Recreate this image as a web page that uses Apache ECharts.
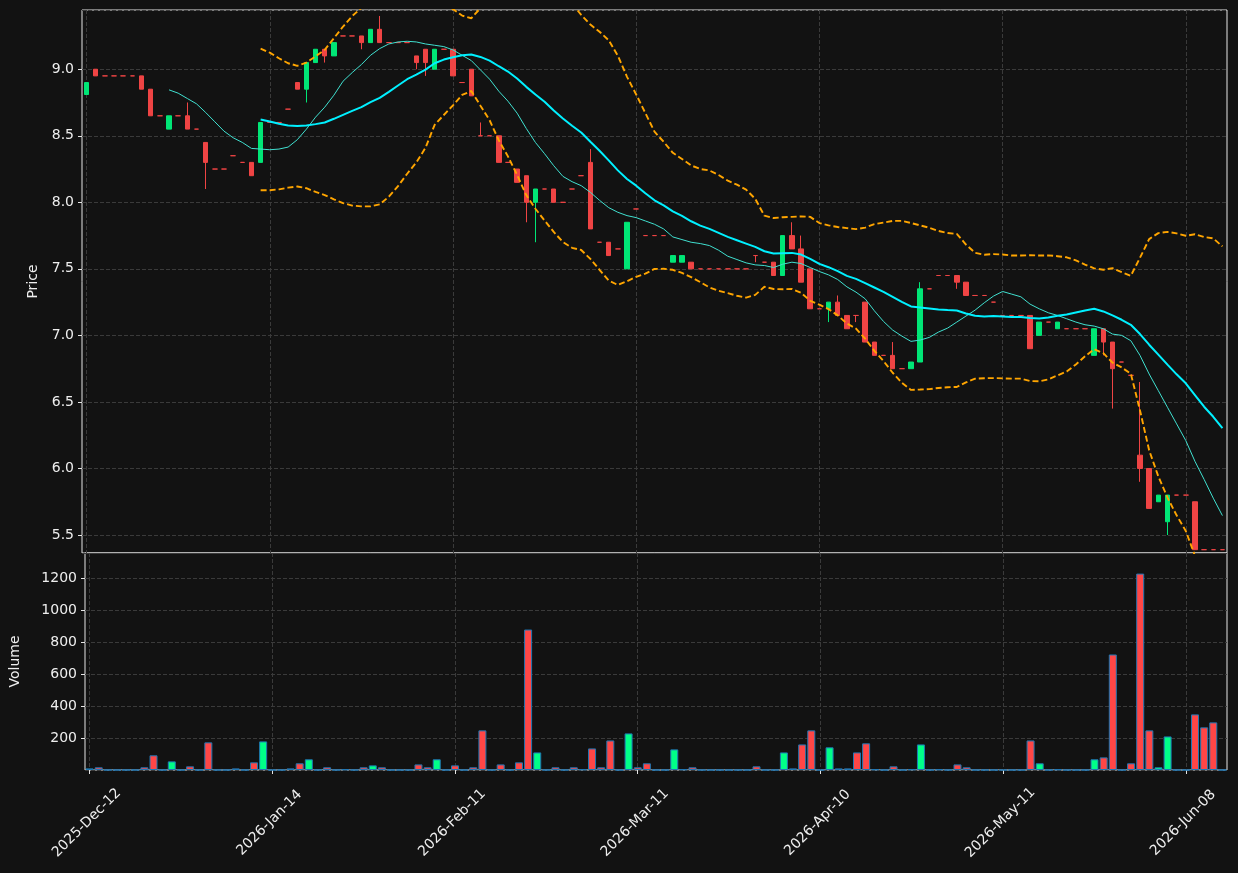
<!DOCTYPE html>
<html>
<head>
<meta charset="utf-8">
<script src="https://cdn.jsdelivr.net/npm/echarts@6/dist/echarts.min.js"></script>
<style>
	html, body { margin: 0; padding: 0; background: #121212; }
	#chart { width: 1238px; height: 873px; }
</style>
</head>
<body>
<div id="chart"></div>
<script>
//   tick labels, one every 20 bars
var tickLabels = ['2025-Dec-12', '2026-Jan-14', '2026-Feb-11', '2026-Mar-11', '2026-Apr-10', '2026-May-11', '2026-Jun-08'];
var tickStep = 20;

//   OHLC (125 bars)
var opens = [
	8.81, 9.00, 8.95, 8.95, 8.95, 8.95, 8.95, 8.85, 8.65, 8.55,
	8.65, 8.65, 8.55, 8.45, 8.25, 8.25, 8.35, 8.30, 8.30, 8.30,
	8.60, 8.60, 8.70, 8.90, 8.85, 9.05, 9.15, 9.10, 9.25, 9.25,
	9.25, 9.20, 9.30, 9.20, 9.20, 9.20, 9.10, 9.15, 9.00, 9.15,
	9.15, 8.90, 9.00, 8.50, 8.50, 8.50, 8.30, 8.25, 8.20, 8.00,
	8.10, 8.10, 8.00, 8.10, 8.20, 8.30, 7.70, 7.70, 7.65, 7.50,
	7.95, 7.75, 7.75, 7.75, 7.55, 7.55, 7.55, 7.50, 7.50, 7.50,
	7.50, 7.50, 7.50, 7.60, 7.55, 7.55, 7.45, 7.75, 7.65, 7.50,
	7.20, 7.20, 7.25, 7.15, 7.15, 7.25, 6.95, 6.85, 6.85, 6.75,
	6.75, 6.80, 7.35, 7.45, 7.45, 7.45, 7.40, 7.30, 7.30, 7.25,
	7.15, 7.15, 7.15, 7.15, 7.00, 7.10, 7.05, 7.05, 7.05, 7.05,
	6.85, 7.05, 6.95, 6.80, 6.70, 6.10, 6.00, 5.75, 5.60, 5.80,
	5.80, 5.75, 5.39, 5.39, 5.39
];
var closes = [
	8.90, 8.95, 8.95, 8.95, 8.95, 8.95, 8.85, 8.65, 8.65, 8.65,
	8.65, 8.55, 8.55, 8.30, 8.25, 8.25, 8.35, 8.30, 8.20, 8.60,
	8.60, 8.60, 8.70, 8.85, 9.05, 9.15, 9.10, 9.20, 9.25, 9.25,
	9.20, 9.30, 9.20, 9.20, 9.20, 9.20, 9.05, 9.05, 9.15, 9.15,
	8.95, 8.90, 8.80, 8.50, 8.50, 8.30, 8.30, 8.15, 8.00, 8.10,
	8.10, 8.00, 8.00, 8.10, 8.20, 7.80, 7.70, 7.60, 7.65, 7.85,
	7.95, 7.75, 7.75, 7.75, 7.60, 7.60, 7.50, 7.50, 7.50, 7.50,
	7.50, 7.50, 7.50, 7.60, 7.55, 7.45, 7.75, 7.65, 7.40, 7.20,
	7.20, 7.25, 7.15, 7.05, 7.15, 6.95, 6.85, 6.85, 6.75, 6.75,
	6.80, 7.35, 7.35, 7.45, 7.45, 7.40, 7.30, 7.30, 7.30, 7.25,
	7.15, 7.15, 7.15, 6.90, 7.10, 7.10, 7.10, 7.05, 7.05, 7.05,
	7.05, 6.95, 6.75, 6.80, 6.70, 6.00, 5.70, 5.80, 5.80, 5.80,
	5.80, 5.39, 5.39, 5.39, 5.39
];
var lows = [
	8.81, 8.95, 8.95, 8.95, 8.95, 8.95, 8.85, 8.65, 8.65, 8.55,
	8.65, 8.55, 8.55, 8.10, 8.25, 8.25, 8.35, 8.30, 8.20, 8.30,
	8.60, 8.60, 8.70, 8.85, 8.75, 9.05, 9.05, 9.10, 9.25, 9.25,
	9.15, 9.20, 9.20, 9.20, 9.20, 9.20, 9.00, 8.95, 9.00, 9.15,
	8.95, 8.90, 8.80, 8.50, 8.50, 8.30, 8.30, 8.15, 7.85, 7.70,
	8.10, 8.00, 8.00, 8.10, 8.20, 7.80, 7.70, 7.60, 7.65, 7.50,
	7.95, 7.75, 7.75, 7.75, 7.55, 7.55, 7.50, 7.50, 7.50, 7.50,
	7.50, 7.50, 7.50, 7.55, 7.55, 7.45, 7.45, 7.65, 7.40, 7.20,
	7.20, 7.10, 7.15, 7.05, 7.10, 6.95, 6.85, 6.85, 6.75, 6.75,
	6.75, 6.80, 7.35, 7.45, 7.45, 7.35, 7.30, 7.30, 7.30, 7.25,
	7.15, 7.15, 7.15, 6.90, 7.00, 7.10, 7.05, 7.05, 7.05, 7.05,
	6.85, 6.85, 6.45, 6.80, 6.70, 5.90, 5.70, 5.75, 5.50, 5.80,
	5.80, 5.39, 5.39, 5.39, 5.39
];
var highs = [
	8.90, 9.00, 8.95, 8.95, 8.95, 8.95, 8.95, 8.85, 8.65, 8.65,
	8.65, 8.75, 8.55, 8.45, 8.25, 8.25, 8.35, 8.30, 8.30, 8.60,
	8.60, 8.60, 8.70, 8.90, 9.05, 9.15, 9.15, 9.20, 9.25, 9.25,
	9.25, 9.30, 9.40, 9.20, 9.20, 9.20, 9.10, 9.15, 9.15, 9.15,
	9.15, 8.90, 9.00, 8.60, 8.50, 8.50, 8.30, 8.25, 8.20, 8.10,
	8.10, 8.10, 8.00, 8.10, 8.20, 8.40, 7.70, 7.70, 7.65, 7.85,
	7.95, 7.75, 7.75, 7.75, 7.60, 7.60, 7.55, 7.50, 7.50, 7.50,
	7.50, 7.50, 7.50, 7.60, 7.55, 7.55, 7.75, 7.85, 7.75, 7.50,
	7.20, 7.25, 7.30, 7.15, 7.15, 7.25, 6.95, 6.85, 6.95, 6.75,
	6.80, 7.40, 7.35, 7.45, 7.45, 7.45, 7.40, 7.30, 7.30, 7.25,
	7.15, 7.15, 7.15, 7.15, 7.10, 7.10, 7.10, 7.05, 7.05, 7.05,
	7.05, 7.05, 6.95, 6.80, 6.70, 6.65, 6.00, 5.80, 5.80, 5.80,
	5.80, 5.75, 5.39, 5.39, 5.39
];
//   volume
var volumes = [
	10, 17, 0, 0, 0, 0, 17, 92, 0, 54,
	0, 23, 0, 173, 0, 0, 10, 0, 48, 179,
	0, 0, 10, 42, 67, 0, 17, 0, 4, 0,
	17, 29, 17, 0, 0, 0, 35, 17, 67, 0,
	29, 0, 17, 248, 0, 35, 0, 48, 879, 110,
	0, 17, 0, 17, 4, 135, 17, 185, 0, 229,
	17, 42, 0, 0, 129, 4, 17, 0, 0, 0,
	0, 0, 0, 23, 0, 0, 110, 10, 160, 248,
	0, 142, 10, 10, 110, 167, 4, 0, 23, 0,
	4, 160, 0, 4, 0, 35, 17, 0, 0, 0,
	0, 0, 0, 185, 42, 0, 4, 0, 0, 0,
	67, 79, 723, 0, 42, 1229, 248, 17, 210, 0,
	0, 348, 267, 298, 0
];

var upColor = '#00e676';
var downColor = '#ef4444';
var volUp = '#00ff88';
var volDown = '#ff4646';
var gridColor = '#3a3a3a';
var textColor = '#eeeeee';
var font = 'DejaVu Sans';

//   moving average
var sma = function (arr, n) {
	var out = [];
	for (var i = 0; i < arr.length; i++) {
		if (i < n - 1) { out.push('-'); continue; }
		var s = 0;
		for (var j = i - n + 1; j <= i; j++) s += arr[j];
		out.push(+(s / n).toFixed(4));
	}
	return out;
}

//   bollinger bands (20, 2)
var boll = function (arr, n, k) {
	var up = [], lo = [];
	for (var i = 0; i < arr.length; i++) {
		if (i < n - 1) { up.push('-'); lo.push('-'); continue; }
		var s = 0, ss = 0;
		for (var j = i - n + 1; j <= i; j++) s += arr[j];
		var m = s / n;
		for (var j = i - n + 1; j <= i; j++) ss += (arr[j] - m) * (arr[j] - m);
		var sd = Math.sqrt(ss / n);
		up.push(+(m + k * sd).toFixed(4));
		lo.push(+(m - k * sd).toFixed(4));
	}
	return { up: up, lo: lo };
}

var ma10 = sma(closes, 10);
var ma20 = sma(closes, 20);
var bb = boll(closes, 20, 2);

var cats = [];
var candles = [];
var vols = [];
for (var i = 0; i < closes.length; i++) {
	cats.push(String(i));
	var up = closes[i] > opens[i];
	var c = up ? upColor : downColor;
	candles.push({
		value: [opens[i], closes[i], lows[i], highs[i]],
		itemStyle: { color: c, color0: c, borderColor: c, borderColor0: c }
	});
	vols.push({ value: volumes[i], itemStyle: { color: up ? volUp : volDown } });
}

var everyTick = function (index) { return index % tickStep === 0; };

var splitX = {
	show: true,
	interval: everyTick,
	alignWithLabel: true,
	lineStyle: { color: gridColor, type: [4, 2], width: 1 }
};
var splitY = {
	show: true,
	lineStyle: { color: gridColor, type: [4, 2], width: 1 }
};

var chart = echarts.init(document.getElementById('chart'));

var option = {
	animation: false,
	backgroundColor: '#121212',
	grid: [
		{ left: 82, right: 11, top: 10, height: 543, show: true, borderColor: '#e6e6e6', borderWidth: 1 },
		{ left: 82, right: 11, top: 553, height: 217, show: true, borderColor: '#e6e6e6', borderWidth: 1 }
	],
	xAxis: [
		{
			type: 'category', gridIndex: 0, data: cats, boundaryGap: true,
			axisLine: { show: false }, axisTick: { show: false }, axisLabel: { show: false },
			splitLine: splitX
		},
		{
			type: 'category', gridIndex: 1, data: cats, boundaryGap: true,
			axisLine: { show: false },
			axisTick: { show: true, interval: everyTick, alignWithLabel: true, length: 4, lineStyle: { color: '#e6e6e6' } },
			axisLabel: {
				show: true, interval: everyTick, rotate: 45, margin: 50,
				align: 'center', verticalAlign: 'middle', padding: [0, 8, 8, 0],
				color: textColor, fontSize: 14, fontFamily: font,
				formatter: function (v, idx) { return tickLabels[idx / tickStep] || ''; }
			},
			splitLine: splitX
		}
	],
	yAxis: [
		{
			type: 'value', gridIndex: 0, min: 5.365, max: 9.445, splitNumber: 8, scale: true,
			name: 'Price', nameLocation: 'middle', nameGap: 42,
			nameTextStyle: { color: textColor, fontSize: 14, fontFamily: font },
			axisLine: { show: false },
			axisTick: { show: true, length: 4, lineStyle: { color: '#e6e6e6' } },
			axisLabel: {
				color: textColor, fontSize: 14, fontFamily: font, margin: 8,
				showMinLabel: false, showMaxLabel: false,
				formatter: function (v) { return v.toFixed(1); }
			},
			splitLine: splitY
		},
		{
			type: 'value', gridIndex: 1, min: 0, max: 1358, interval: 200,
			name: 'Volume', nameLocation: 'middle', nameGap: 63,
			nameTextStyle: { color: textColor, fontSize: 14, fontFamily: font },
			axisLine: { show: false },
			axisTick: { show: true, length: 4, lineStyle: { color: '#e6e6e6' } },
			axisLabel: {
				color: textColor, fontSize: 14, fontFamily: font, margin: 8,
				showMinLabel: false, showMaxLabel: false,
				formatter: function (v) { return String(v); }
			},
			splitLine: splitY
		}
	],
	series: [
		{
			name: 'OHLC', type: 'candlestick', xAxisIndex: 0, yAxisIndex: 0,
			data: candles, barWidth: 5,
			itemStyle: { borderWidth: 1 }
		},
		{
			name: 'MA10', type: 'line', xAxisIndex: 0, yAxisIndex: 0, data: ma10,
			showSymbol: false, lineStyle: { color: '#40e0d0', width: 1 }
		},
		{
			name: 'MA20', type: 'line', xAxisIndex: 0, yAxisIndex: 0, data: ma20,
			showSymbol: false, lineStyle: { color: '#00f0ff', width: 2 }
		},
		{
			name: 'BB upper', type: 'line', xAxisIndex: 0, yAxisIndex: 0, data: bb.up,
			showSymbol: false, lineStyle: { color: '#ffa500', width: 1.9, type: [6, 3] }
		},
		{
			name: 'BB lower', type: 'line', xAxisIndex: 0, yAxisIndex: 0, data: bb.lo,
			showSymbol: false, lineStyle: { color: '#ffa500', width: 1.9, type: [6, 3] }
		},
		{
			name: 'Volume', type: 'bar', xAxisIndex: 1, yAxisIndex: 1, data: vols,
			barWidth: 8,
			itemStyle: { borderColor: '#1f77b4', borderWidth: 1 }
		}
	]
};

chart.setOption(option);
</script>
</body>
</html>
